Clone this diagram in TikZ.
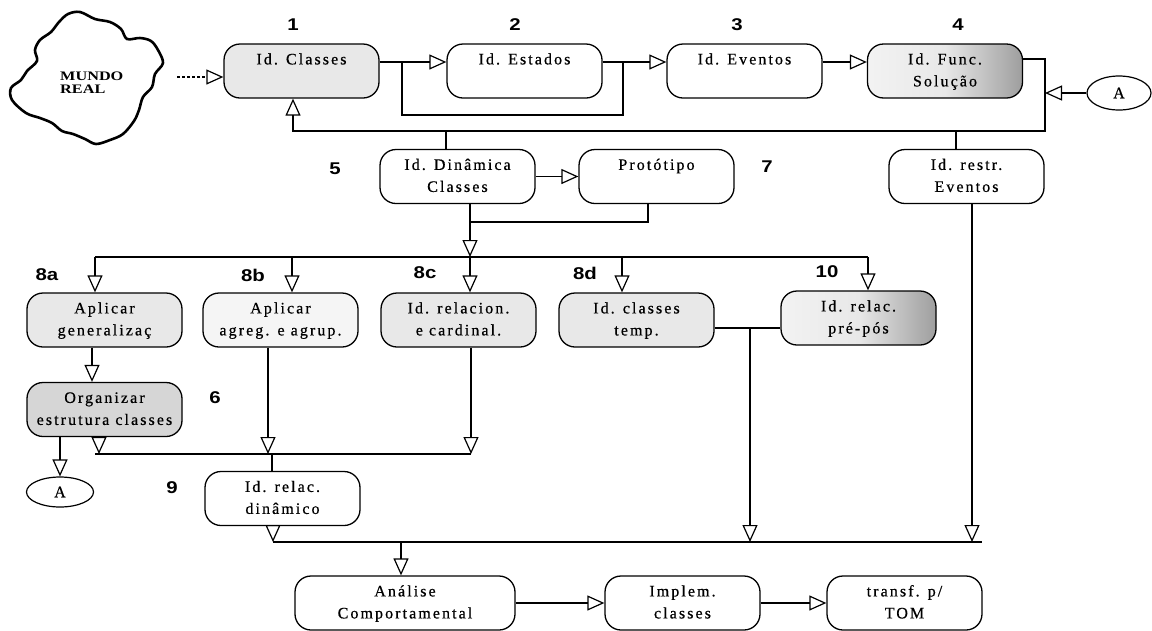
\documentclass[tikz,border=0pt]{standalone}
\usepackage{fontspec}
\setmainfont{Liberation Serif}
\newfontfamily\stagefont{Liberation Serif}[LetterSpace=13, FakeBold=0.6]
\newfontfamily\numfont{Liberation Sans}[FakeStretch=1.2]
\newfontfamily\cloudfont{Liberation Serif}[FakeStretch=1.25]
\usetikzlibrary{arrows.meta,shapes.geometric}

\newcommand\twolines[2]{\strut#1\\\strut#2}

\tikzset{
  stage/.style={draw, line width=1.3pt, rounded corners=16pt,
    minimum width=155pt, minimum height=54pt, inner sep=0pt, align=center,
    font={\stagefont\fontsize{16}{22}\selectfont}},
  dotted fill/.style={fill=black!9},
  light fill/.style={fill=black!4},
  dark fill/.style={fill=black!16},
  edge shade/.style={left color=black!5, right color=black!38, middle color=black!9},
  connector/.style={ellipse, draw, line width=1.2pt, minimum width=64pt,
    minimum height=34pt, inner sep=0pt, font={\stagefont\fontsize{16}{18}\selectfont}},
  num/.style={font={\numfont\bfseries\fontsize{17}{17}\selectfont}, inner sep=0pt},
  link/.style={line width=1.2pt},
  arr/.style={link, -{Triangle[open, length=17pt, width=15pt, line width=1.2pt]}},
}

\begin{document}
\begin{tikzpicture}[x=1pt, y=-1pt]
\useasboundingbox (0,0) rectangle (1152,630);

% the outside world
\draw[line width=2.6pt, line join=round] plot[smooth cycle, tension=0.55] coordinates {
  (68,14) (80,12) (95,19) (110,22) (121,29) (127,39) (140,38) (151,41) (158,50)
  (163,63) (155,74) (152,87) (143,97) (139,110) (134,121) (123,134) (110,140)
  (96,144) (85,139) (73,134) (62,131) (52,123) (40,118) (26,113) (12,100)
  (11,88) (21,80) (27,71) (37,61) (35,50) (40,40) (51,32) (59,22)};
\node[font={\cloudfont\bfseries\fontsize{13}{13}\selectfont}, align=left, anchor=north west, inner sep=0pt]
  (world) at (60,72) {MUNDO\\REAL};
\coordinate (cl) at (177,77);

% first row
\node[stage, dotted fill] (n1) at (301.5,71) {\twolines{Id. Classes}{}};
\node[stage] (n2) at (524.5,71) {\twolines{Id. Estados}{}};
\node[stage] (n3) at (744.5,71) {\twolines{Id. Eventos}{}};
\node[stage, edge shade] (n4) at (945,71) {\twolines{Id. Func.}{Solução}};
\node[connector] (A1) at (1119,93) {A};

\node[num] (l1) at (293,25) {1};
\node[num] (l2) at (515,25) {2};
\node[num] (l3) at (737,25) {3};
\node[num] (l4) at (958,25) {4};

% second row
\node[stage] (n5) at (457.5,176.5) {\twolines{Id. Dinâmica}{Classes}};
\node[stage] (n7) at (656.5,176.5) {\twolines{Protótipo}{}};
\node[stage] (nR) at (966.5,176.5) {\twolines{Id. restr.}{Eventos}};
\node[num] (l5) at (335,169) {5};
\node[num] (l7) at (767,167) {7};

% third row
\node[stage, dotted fill] (n8a) at (104.5,320) {\twolines{Aplicar}{generalizaç}};
\node[stage, light fill] (n8b) at (280.5,320) {\twolines{Aplicar}{agreg. e agrup.}};
\node[stage, dotted fill] (n8c) at (458.5,320) {\twolines{Id. relacion.}{e cardinal.}};
\node[stage, dotted fill] (n8d) at (636.5,320) {\twolines{Id. classes}{temp.}};
\node[stage, edge shade] (n10) at (858.5,318) {\twolines{Id. relac.}{pré-pós}};
\node[num] (l8a) at (47,275) {8a};
\node[num] (l8b) at (253,275) {8b};
\node[num] (l8c) at (425,273) {8c};
\node[num] (l8d) at (585,273) {8d};
\node[num] (l10) at (827,272) {10};

% fourth and fifth rows
\node[stage, dark fill] (Org) at (104.5,409.5) {\twolines{Organizar}{estrutura classes}};
\node[num] (l6) at (215,398) {6};
\node[connector, minimum width=67pt, minimum height=30pt] (A2) at (60,492) {A};
\node[stage] (n9) at (282.5,498.5) {\twolines{Id. relac.}{dinâmico}};
\node[num] (l9) at (172,488) {9};

% last row
\node[stage, minimum width=220pt] (nAn) at (405,603) {\twolines{Análise}{Comportamental}};
\node[stage] (nIm) at (682.5,603) {\twolines{Implem.}{classes}};
\node[stage] (nTr) at (904.5,603) {\twolines{transf. p/}{TOM}};

% connections of the first row
\draw[arr, dash pattern=on 3pt off 2pt] (cl) -- (cl -| n1.west);
\coordinate (ja) at (402,62);
\coordinate (jb) at (623,62);
\coordinate (jc) at (402,115);
\coordinate (jd) at (623,115);
\draw[arr] (n1.east |- ja) -- (ja) -- (n2.west |- ja);
\draw[link] (ja) -- (jc) -- (jd) -- (jb);
\draw[arr] (n2.east |- jb) -- (jb) -- (n3.west |- jb);
\draw[arr] (n3.east |- jb) -- (n4.west |- jb);
\coordinate (je) at (1045,59);
\coordinate (jf) at (1045,131);
\coordinate (jg) at (293,131);
\draw[arr] (n4.east |- je) -- (je) -- (jf) -- (jg) -- (n1.south -| jg);
\coordinate (jh) at (446,131);
\draw[link] (jh) -- (n5.north -| jh);
\coordinate (ji) at (956,131);
\draw[link] (ji) -- (nR.north -| ji);
\draw[arr] (A1.west) -- (A1.west -| je);

% connections of the second row
\draw[arr] (n5) -- (n7);
\coordinate (jj) at (470,222);
\coordinate (jk) at (648,222);
\coordinate (jl) at (470,257);
\draw[link] (n5.south -| jj) -- (jj);
\draw[link] (n7.south -| jk) -- (jk) -- (jj);
\draw[arr] (jj) -- (jl);
\coordinate (bL) at (95,257);
\coordinate (bR) at (868,257);
\coordinate (b2) at (292,257);
\coordinate (b4) at (622,257);
\draw[link] (bL) -- (bR);
\draw[arr] (bL) -- (n8a.north -| bL);
\draw[arr] (b2) -- (n8b.north -| b2);
\draw[arr] (jl) -- (n8c.north -| jl);
\draw[arr] (b4) -- (n8d.north -| b4);
\draw[arr] (bR) -- (n10.north -| bR);

% connections below the third row
\draw[arr] ([xshift=-12.5pt]n8a.south) -- ([xshift=-12.5pt]Org.north);
\draw[arr] (Org.south -| A2) -- (A2.north);
\coordinate (dL) at (95,454);
\coordinate (dR) at (471,454);
\coordinate (d1) at (99,454);
\coordinate (d2) at (268,454);
\coordinate (d3) at (272,454);
\draw[link] (dL) -- (dR);
\draw[arr] (Org.south -| d1) -- (d1);
\draw[arr] (n8b.south -| d2) -- (d2);
\draw[arr] (n8c.south -| dR) -- (dR);
\draw[link] (d3) -- (n9.north -| d3);

\coordinate (eL) at (273,542);
\coordinate (eR) at (982,542);
\draw[link] (eL) -- (eR);
\draw[arr] (n9.south -| eL) -- (eL);
\coordinate (f1) at (750,328);
\coordinate (f2) at (750,542);
\coordinate (f3) at (972,542);
\coordinate (f4) at (401,542);
\draw[link] (n8d.east |- f1) -- (n10.west |- f1);
\draw[arr] (f1) -- (f2);
\draw[arr] (nR.south -| f3) -- (f3);
\draw[arr] (f4) -- (nAn.north -| f4);
\draw[arr] (nAn) -- (nIm);
\draw[arr] (nIm) -- (nTr);
\end{tikzpicture}
\end{document}
